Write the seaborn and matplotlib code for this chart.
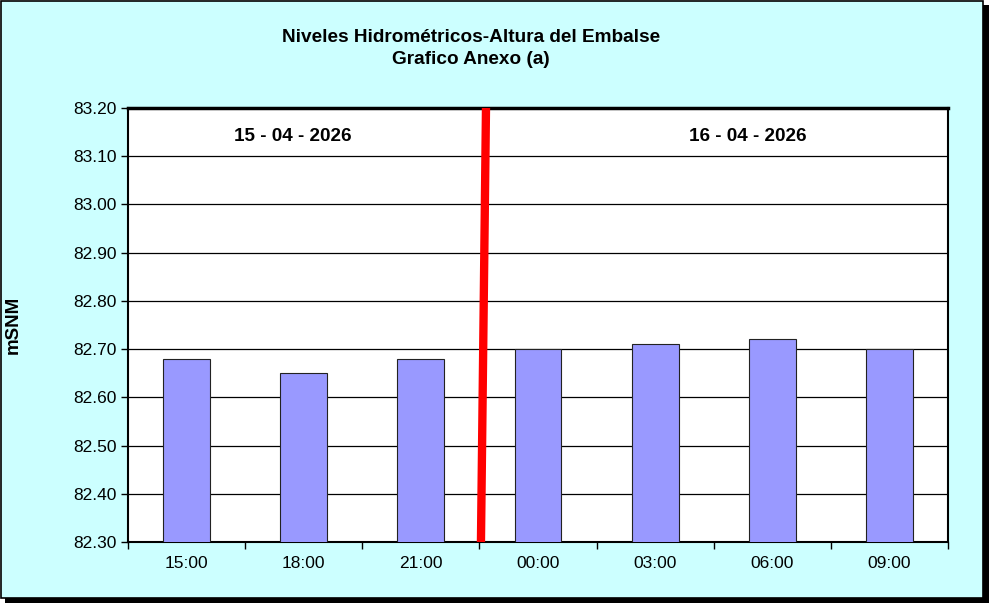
import matplotlib
matplotlib.use("Agg")
import matplotlib.pyplot as plt
import matplotlib.patches as mpatches
import pandas as pd
import seaborn as sns

horas = ["15:00", "18:00", "21:00", "00:00", "03:00", "06:00", "09:00"]
nivel = [82.68, 82.65, 82.68, 82.70, 82.71, 82.72, 82.70]
fechas = ["15 - 04 - 2026", "16 - 04 - 2026"]
y_ticks = [82.30, 82.40, 82.50, 82.60, 82.70, 82.80, 82.90, 83.00, 83.10, 83.20]

sns.set_style("white")
plt.rcParams['font.family'] = ['Liberation Sans', 'DejaVu Sans']
plt.rcParams.update({"text.color": "black", "axes.labelcolor": "black",
                     "xtick.color": "black", "ytick.color": "black"})

df = pd.DataFrame({"hora": horas, "nivel": nivel})

fig = plt.figure(figsize=(9.89, 6.03), dpi=100)
fig.patch.set_facecolor("white")

# marco con sombra
fig.patches.append(mpatches.Rectangle((5 / 989, 0), 984 / 989, 598 / 603,
                                      transform=fig.transFigure, facecolor="black",
                                      edgecolor="none", zorder=-3))
fig.patches.append(mpatches.Rectangle((0.5 / 989, 5 / 603), 982 / 989, 597 / 603,
                                      transform=fig.transFigure, facecolor="#CCFFFF",
                                      edgecolor="black", linewidth=1.2, zorder=-2))

ax = fig.add_axes([128 / 989, 1 - 542 / 603, 820 / 989, 434 / 603])
ax.set_facecolor("white")

sns.barplot(data=df, x="hora", y="nivel", color="#9999FF", width=0.4,
            edgecolor="#222222", linewidth=0.8, saturation=1, ax=ax, zorder=3)

ax.set_ylim(82.30, 83.20)
ax.set_yticks(y_ticks)
ax.set_yticklabels([f"{v:.2f}" for v in y_ticks], fontsize=12.5)
ax.set_xlim(-0.5, len(horas) - 0.5)
ax.set_xticks(range(len(horas)))
ax.set_xticklabels(horas, fontsize=12.5)
ax.tick_params(axis="x", length=0, pad=10)
ax.tick_params(axis="y", length=5, width=1, direction="out", left=True, pad=3)
ax.set_xticks([i + 0.5 for i in range(-1, len(horas))], minor=True)
ax.tick_params(axis="x", which="minor", length=5, width=1, direction="out", bottom=True)

for v in y_ticks[1:-1]:
    ax.axhline(v, color="black", linewidth=0.9, zorder=1)

for side in ["left", "right", "bottom"]:
    ax.spines[side].set_color("black")
    ax.spines[side].set_linewidth(1.5)
ax.spines["top"].set_color("black")
ax.spines["top"].set_linewidth(2.5)

# linea de cambio de dia
ax.plot([2.513, 2.556], [82.30, 83.20], color="#FF0000", linewidth=6,
        solid_capstyle="butt", zorder=5, clip_on=False)

ax.text(0.91, 83.14, fechas[0], ha="center", va="center", fontsize=13.6, fontweight="bold")
ax.text(4.79, 83.14, fechas[1], ha="center", va="center", fontsize=13.6, fontweight="bold")

ax.set_xlabel("")
ax.set_ylabel("mSNM", fontsize=13.5, fontweight="bold")
ax.yaxis.set_label_coords(-106 / 820, 0.5)

fig.text(471 / 989, 1 - 38 / 603, "Niveles Hidrométricos-Altura del Embalse",
         ha="center", va="center", fontsize=13.7, fontweight="bold")
fig.text(471 / 989, 1 - 60 / 603, "Grafico Anexo (a)",
         ha="center", va="center", fontsize=13.7, fontweight="bold")

fig.savefig("out.png", dpi=100, facecolor=fig.get_facecolor())
